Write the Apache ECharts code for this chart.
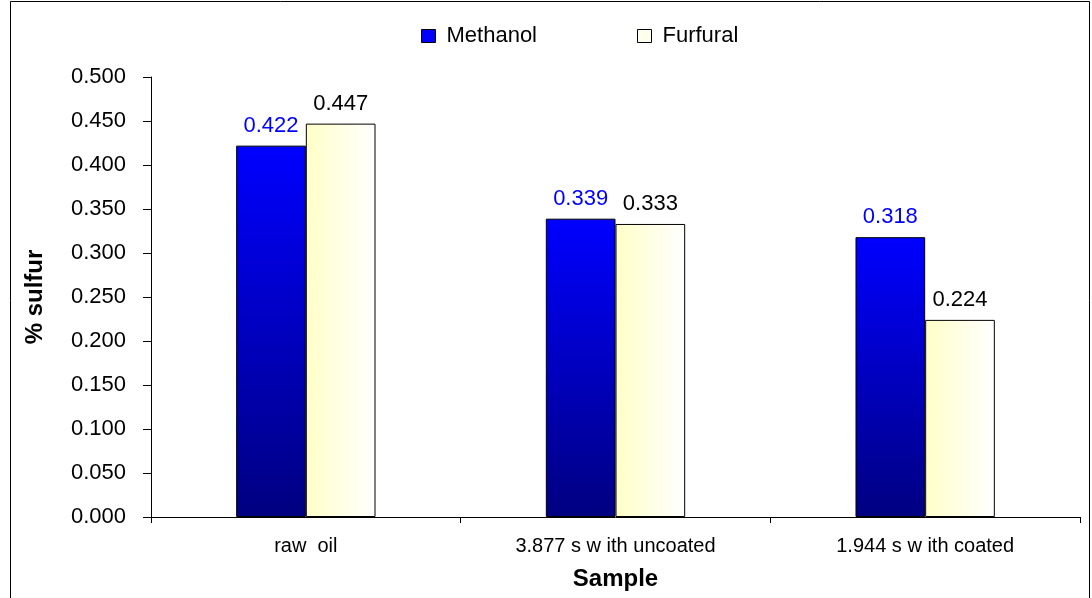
<!DOCTYPE html>
<html>
<head>
<meta charset="utf-8">
<script src="https://cdn.jsdelivr.net/npm/echarts@6/dist/echarts.min.js"></script>
<style>
  html, body { margin: 0; padding: 0; background: #fff; }
  #chart { width: 1092px; height: 598px; }
</style>
</head>
<body>
<div id="chart"></div>
<script>
var categories = ['raw  oil', '3.877 s w ith uncoated', '1.944 s w ith coated'];
var methanol = [0.422, 0.339, 0.318];
var furfural = [0.447, 0.333, 0.224];

var font = 'Liberation Sans, Arial, sans-serif';
var myChart = echarts.init(document.getElementById('chart'));

var methanolFill = new echarts.graphic.LinearGradient(0, 0, 0, 1, [
    { offset: 0, color: '#0000ff' },
    { offset: 1, color: '#000080' }
]);
var furfuralFill = new echarts.graphic.LinearGradient(0, 0, 1, 0, [
    { offset: 0, color: '#ffffc8' },
    { offset: 1, color: '#ffffff' }
]);

var option = {
    backgroundColor: '#fff',
    animation: false,
    graphic: [{
        type: 'rect',
        shape: { x: 10.5, y: 1.5, width: 1079, height: 610 },
        style: { fill: 'none', stroke: '#000', lineWidth: 1 },
        silent: true
    }],
    legend: {
        top: 20,
        left: 416,
        itemGap: 100,
        itemWidth: 14,
        itemHeight: 13,
        textStyle: { fontFamily: font, fontSize: 22, color: '#000', padding: [0, 0, 0, 6] },
        data: [
            { name: 'Methanol', icon: 'rect', itemStyle: { color: '#0000ff', borderColor: '#000', borderWidth: 1 } },
            { name: 'Furfural', icon: 'rect', itemStyle: { color: '#ffffee', borderColor: '#000', borderWidth: 1 } }
        ]
    },
    grid: { left: 151, right: 12, top: 77, bottom: 81, containLabel: false },
    xAxis: {
        type: 'category',
        data: categories,
        name: 'Sample',
        nameLocation: 'middle',
        nameGap: 50,
        nameTextStyle: { fontFamily: font, fontSize: 24, fontWeight: 'bold', color: '#000' },
        axisLine: { lineStyle: { color: '#000', width: 1 } },
        axisTick: { show: true, length: 6, lineStyle: { color: '#000' } },
        axisLabel: { fontFamily: font, fontSize: 20, color: '#000', margin: 19 }
    },
    yAxis: {
        type: 'value',
        min: 0,
        max: 0.5,
        interval: 0.05,
        name: '% sulfur',
        nameLocation: 'middle',
        nameGap: 104,
        nameTextStyle: { fontFamily: font, fontSize: 24, fontWeight: 'bold', color: '#000' },
        axisLine: { show: true, lineStyle: { color: '#000', width: 1 } },
        axisTick: { show: true, length: 8, lineStyle: { color: '#000' } },
        splitLine: { show: false },
        axisLabel: {
            fontFamily: font, fontSize: 22, color: '#000', margin: 25,
            formatter: function (v) { return v.toFixed(3); }
        }
    },
    series: [
        {
            name: 'Methanol',
            type: 'bar',
            data: methanol,
            barGap: '0%',
            barCategoryGap: '55%',
            itemStyle: { color: methanolFill, borderColor: '#000', borderWidth: 1 },
            label: {
                show: true, position: 'top', distance: 9,
                fontFamily: font, fontSize: 22, color: '#0000ff',
                formatter: function (p) { return p.value.toFixed(3); }
            }
        },
        {
            name: 'Furfural',
            type: 'bar',
            data: furfural,
            itemStyle: { color: furfuralFill, borderColor: '#000', borderWidth: 1 },
            label: {
                show: true, position: 'top', distance: 9,
                fontFamily: font, fontSize: 22, color: '#000',
                formatter: function (p) { return p.value.toFixed(3); }
            }
        }
    ]
};

myChart.setOption(option);
</script>
</body>
</html>
